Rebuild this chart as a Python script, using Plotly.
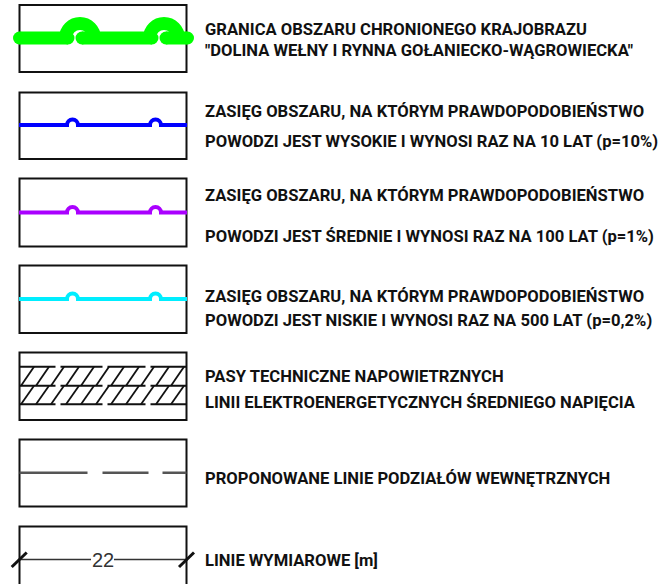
import plotly.graph_objects as go

# ---- content ----
ROW_TEXTS = [
    ["GRANICA OBSZARU CHRONIONEGO KRAJOBRAZU",
     "\"DOLINA WEŁNY I RYNNA GOŁANIECKO-WĄGROWIECKA\""],
    ["ZASIĘG OBSZARU, NA KTÓRYM PRAWDOPODOBIEŃSTWO",
     "POWODZI JEST WYSOKIE I WYNOSI RAZ NA 10 LAT (p=10%)"],
    ["ZASIĘG OBSZARU, NA KTÓRYM PRAWDOPODOBIEŃSTWO",
     "POWODZI JEST ŚREDNIE I WYNOSI RAZ NA 100 LAT (p=1%)"],
    ["ZASIĘG OBSZARU, NA KTÓRYM PRAWDOPODOBIEŃSTWO",
     "POWODZI JEST NISKIE I WYNOSI RAZ NA 500 LAT (p=0,2%)"],
    ["PASY TECHNICZNE NAPOWIETRZNYCH",
     "LINII ELEKTROENERGETYCZNYCH ŚREDNIEGO NAPIĘCIA"],
    ["PROPONOWANE LINIE PODZIAŁÓW WEWNĘTRZNYCH"],
    ["LINIE WYMIAROWE [m]"],
]
FLOOD_COLORS = ["#0000ff", "#aa00ff", "#00eeff"]
BOUNDARY_COLOR = "#00ff00"
DIMENSION_LABEL = "22"

# ---- layout geometry (pixel space) ----
W, H = 662, 584
BOX_X0, BOX_X1 = 19.5, 186.5
BOX_Y = [(5, 72), (92.5, 159), (178.5, 246.5), (265.5, 333), (352.5, 420), (439.5, 506.5), (526.5, 620)]
TEXT_Y = [[29, 50], [111, 141], [195, 236], [296, 320], [376, 402], [478], [560]]
TEXT_X = 203

FONT = "Roboto, Liberation Sans, Arial, sans-serif"
K = 0.5523

shapes = []


def line(x0, y0, x1, y1, color, width, dash=None):
    d = dict(type="line", xref="x", yref="y", x0=x0, y0=y0, x1=x1, y1=y1,
             line=dict(color=color, width=width))
    if dash:
        d["line"]["dash"] = dash
    shapes.append(d)


def arc_path(cx, cy, r):
    return (f"M {cx-r},{cy} C {cx-r},{cy-K*r} {cx-K*r},{cy-r} {cx},{cy-r} "
            f"C {cx+K*r},{cy-r} {cx+r},{cy-K*r} {cx+r},{cy}")


def circle(cx, cy, r, color):
    shapes.append(dict(type="circle", xref="x", yref="y", x0=cx-r, x1=cx+r,
                       y0=cy-r, y1=cy+r, fillcolor=color, line=dict(width=0)))


# boxes
for (y0, y1) in BOX_Y:
    shapes.append(dict(type="rect", xref="x", yref="y", x0=BOX_X0, x1=BOX_X1,
                       y0=y0, y1=y1, line=dict(color="#111111", width=2),
                       fillcolor="rgba(0,0,0,0)"))

# row 1: green boundary symbol
gy, gw, gr = 38, 13, 14.5
segs = [(19.5, 68), (82, 152), (166, 187.5)]
for a, b in segs:
    line(a, gy, b, gy, BOUNDARY_COLOR, gw)
    circle(a, gy, gw / 2, BOUNDARY_COLOR)
    circle(b, gy, gw / 2, BOUNDARY_COLOR)
for cx in (80, 164):
    shapes.append(dict(type="path", xref="x", yref="y", path=arc_path(cx, gy, gr),
                       line=dict(color=BOUNDARY_COLOR, width=gw)))

# rows 2-4: flood lines with bumps
FLOOD_Y = [125, 212.5, 299]
for col, fy in zip(FLOOD_COLORS, FLOOD_Y):
    r = 5.5
    p = (f"M {BOX_X0-0.5},{fy} L {72.5-r},{fy} "
         + arc_path(72.5, fy, r).replace("M", "L", 1)
         + f" L {155.5-r},{fy} "
         + arc_path(155.5, fy, r).replace("M", "L", 1)
         + f" L {BOX_X1+0.5},{fy}")
    shapes.append(dict(type="path", xref="x", yref="y", path=p,
                       line=dict(color=col, width=4)))

# row 5: technical strips (hatching)
HL = [366.7, 385.7, 404.3]
for y in HL:
    line(BOX_X0, y, BOX_X1, y, "#111111", 2, dash="36px,5px,42px,5px,38px,5px,60px")
for (yt, yb) in [(HL[0], HL[1]), (HL[1], HL[2])]:
    xb = 21
    while xb + 13 <= BOX_X1:
        line(xb, yb, xb + 13, yt, "#111111", 1.8)
        xb += 15

# row 6: dashed internal division line
line(BOX_X0, 472.7, BOX_X1, 472.7, "#555555", 2.5, dash="68px,15px,46px,14px,40px")

# row 7: dimension line
dy = 559.5
line(BOX_X0, dy, 91, dy, "#333333", 1.5)
line(114, dy, BOX_X1, dy, "#333333", 1.5)
line(11.7, 567, 26.7, 552.5, "#111111", 3)
line(179, 567, 194, 552.5, "#111111", 3)

annotations = [dict(x=102.5, y=dy, xref="x", yref="y", text=DIMENSION_LABEL,
                    showarrow=False, xanchor="center", yanchor="middle",
                    font=dict(family="Liberation Sans, Arial, sans-serif", size=20, color="#333333"))]

for texts, ys in zip(ROW_TEXTS, TEXT_Y):
    for t, y in zip(texts, ys):
        annotations.append(dict(x=TEXT_X, y=y, xref="x", yref="y", text=t,
                                showarrow=False, xanchor="left", yanchor="middle",
                                font=dict(family=FONT, size=16.6, color="#111111", weight="bold")))

fig = go.Figure()
fig.add_trace(go.Scatter(x=[0, W], y=[0, H], mode="markers", marker=dict(opacity=0),
                         hoverinfo="skip", showlegend=False))
fig.update_layout(
    width=W, height=H, margin=dict(l=0, r=0, t=0, b=0),
    paper_bgcolor="white", plot_bgcolor="white",
    xaxis=dict(range=[0, W], visible=False, fixedrange=True),
    yaxis=dict(range=[H, 0], visible=False, fixedrange=True),
    shapes=shapes, annotations=annotations, showlegend=False,
)
fig.write_html("out.html", config={"displayModeBar": False},
               post_script="document.body.style.margin='0px';")
